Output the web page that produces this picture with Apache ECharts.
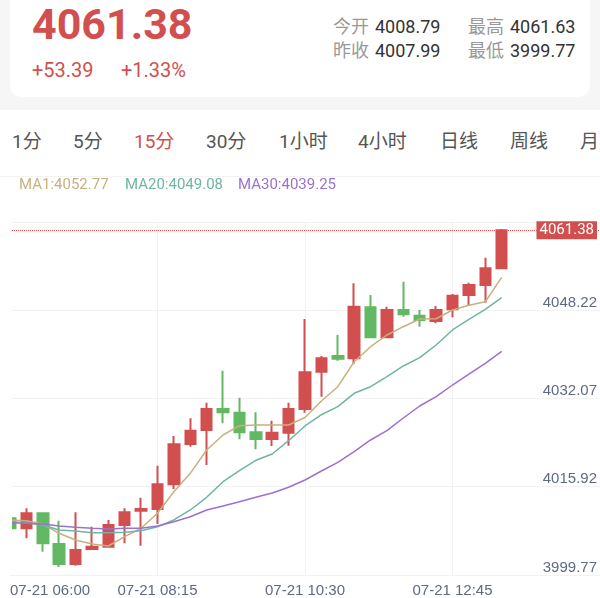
<!DOCTYPE html>
<html>
<head>
<meta charset="utf-8">
<script src="https://cdn.jsdelivr.net/npm/echarts@6/dist/echarts.min.js"></script>
<style>
  html, body { margin: 0; padding: 0; }
  body {
    width: 600px; height: 598px; position: relative; overflow: hidden;
    background: #f6f6f6;
    font-family: Roboto, "Noto Sans CJK SC", sans-serif;
  }
  .card { position: absolute; left: 10px; top: -12px; width: 580px; height: 109px; background: #fff; border-radius: 12px; }
  .panel { position: absolute; left: 0; top: 110px; width: 600px; height: 488px; background: #fff; }
  .t { position: absolute; line-height: 1; white-space: nowrap; }
  .price { left: 32px; top: 3px; font-size: 43px; font-weight: bold; color: #d24f4f; }
  .chg { top: 60px; font-size: 20px; color: #d24f4f; }
  .lab { font-size: 18px; color: #999; }
  .val { font-size: 18px; color: #333; }
  .tab { top: 132px; font-size: 19px; color: #555; }
  .tab.on { color: #d24f4f; }
  .sep { position: absolute; left: 0; top: 176px; width: 600px; height: 1px; background: #f3f3f3; }
  #chart { position: absolute; left: 0; top: 176px; width: 600px; height: 422px; }
</style>
</head>
<body>
<div class="card"></div>
<div class="panel"></div>
<div class="t price" id="price"></div>
<div class="t chg" id="chg" style="left:32px"></div>
<div class="t chg" id="pct" style="left:121px"></div>
<div class="t lab" style="left:333px;top:18px">今开</div>
<div class="t val" id="open" style="left:375px;top:18px"></div>
<div class="t lab" style="left:468px;top:18px">最高</div>
<div class="t val" id="high" style="left:510px;top:18px"></div>
<div class="t lab" style="left:333px;top:42px">昨收</div>
<div class="t val" id="prev" style="left:375px;top:42px"></div>
<div class="t lab" style="left:468px;top:42px">最低</div>
<div class="t val" id="low" style="left:510px;top:42px"></div>
<div id="tabs"></div>
<div class="sep"></div>
<div id="chart"></div>
<script>
// header quote
const lastPrice = '4061.38';
const change = '+53.39';
const changePct = '+1.33%';
const openPrice = '4008.79';
const prevClose = '4007.99';
const highPrice = '4061.63';
const lowPrice = '3999.77';

const tabs = ['1分', '5分', '15分', '30分', '1小时', '4小时', '日线', '周线', '月'];
const tabLeft = [12, 73, 134, 206, 279, 358, 440, 510, 580];
const activeTab = '15分';

// 15 minute bars
const times = [
  '07-21 06:00', '07-21 06:15', '07-21 06:30', '07-21 06:45', '07-21 07:00', '07-21 07:15',
  '07-21 07:30', '07-21 07:45', '07-21 08:00', '07-21 08:15', '07-21 08:30', '07-21 08:45',
  '07-21 09:00', '07-21 09:15', '07-21 09:30', '07-21 09:45', '07-21 10:00', '07-21 10:15',
  '07-21 10:30', '07-21 10:45', '07-21 11:00', '07-21 11:15', '07-21 11:30', '07-21 11:45',
  '07-21 12:00', '07-21 12:15', '07-21 12:30', '07-21 12:45', '07-21 13:00', '07-21 13:15',
  '07-21 13:30', '07-21 13:45', '07-21 14:00', '07-21 14:15', '07-21 14:30', '07-21 14:45',
  '07-21 15:00'
];

// [open, close, low, high]
const kData = [
  [4008.69, 4006.86, 4006.54, 4008.92],
  [4006.86, 4009.60, 4005.03, 4010.52],
  [4009.60, 4004.11, 4002.57, 4009.70],
  [4003.98, 4000.32, 3999.77, 4008.25],
  [4000.32, 4002.89, 4000.01, 4009.78],
  [4003.07, 4003.49, 4002.89, 4007.15],
  [4003.49, 4007.46, 4003.38, 4008.38],
  [4007.46, 4009.78, 4004.11, 4010.52],
  [4010.08, 4010.39, 4003.67, 4012.46],
  [4010.39, 4014.91, 4007.64, 4018.31],
  [4014.91, 4022.23, 4014.05, 4023.75],
  [4022.28, 4024.72, 4021.79, 4026.99],
  [4024.85, 4028.69, 4018.44, 4029.84],
  [4028.69, 4028.08, 4026.07, 4035.70],
  [4028.01, 4024.42, 4023.14, 4030.76],
  [4024.42, 4023.20, 4021.31, 4028.08],
  [4023.20, 4024.35, 4021.92, 4026.55],
  [4024.35, 4028.69, 4021.97, 4029.84],
  [4028.69, 4035.40, 4028.01, 4045.16],
  [4035.51, 4037.97, 4030.94, 4038.39],
  [4038.39, 4037.89, 4037.53, 4042.23],
  [4037.97, 4047.41, 4036.92, 4051.69],
  [4047.30, 4041.81, 4041.81, 4049.55],
  [4041.81, 4046.81, 4041.81, 4047.41],
  [4046.81, 4046.02, 4045.58, 4051.98],
  [4045.76, 4044.98, 4043.75, 4046.81],
  [4044.79, 4046.81, 4044.37, 4047.54],
  [4046.93, 4049.42, 4045.47, 4049.73],
  [4049.55, 4051.38, 4047.72, 4051.80],
  [4051.38, 4054.44, 4048.14, 4056.38],
  [4054.44, 4061.38, 4054.44, 4061.63]
];

const ma1 = [
  4008.38, 4008.25, 4007.64, 4005.94, 4004.72, 4003.98, 4003.62, 4005.32, 4006.86, 4009.60,
  4013.55, 4016.92, 4021.19, 4023.93, 4025.63, 4025.76, 4025.76, 4025.76, 4027.13, 4030.15,
  4032.77, 4037.34, 4040.09, 4042.23, 4043.75, 4045.16, 4045.21, 4046.81, 4047.67, 4048.32,
  4052.77
];
const ma20 = [
  4008.06, 4007.88, 4007.46, 4006.55, 4006.36, 4006.05, 4006.05, 4006.12, 4006.42, 4007.15,
  4008.38, 4010.21, 4012.53, 4015.38, 4017.40, 4019.30, 4020.45, 4022.89, 4025.58, 4027.64,
  4029.11, 4031.56, 4032.77, 4034.60, 4036.56, 4038.08, 4040.40, 4043.15, 4045.10, 4046.93,
  4049.08
];
const ma30 = [
  4007.88, 4007.77, 4007.64, 4007.28, 4007.04, 4006.86, 4006.73, 4006.86, 4006.86, 4007.28,
  4008.06, 4008.98, 4010.21, 4010.94, 4011.72, 4012.53, 4013.32, 4014.36, 4015.70, 4017.34,
  4018.93, 4020.87, 4023.02, 4024.72, 4027.04, 4029.24, 4030.94, 4033.08, 4035.09, 4037.05,
  4039.25
];

const yMin = 3998.31;
const yMax = 4062.91;
const yStep = 16.15;
const yTickLabels = ['3999.77', '4015.92', '4032.07', '4048.22', ''];

const UP = '#d24f4f';
const DOWN = '#63b863';
const AXIS_TEXT = '#5e6a85';
const GRID = '#f2f2f2';

document.getElementById('price').textContent = lastPrice;
document.getElementById('chg').textContent = change;
document.getElementById('pct').textContent = changePct;
document.getElementById('open').textContent = openPrice;
document.getElementById('prev').textContent = prevClose;
document.getElementById('high').textContent = highPrice;
document.getElementById('low').textContent = lowPrice;

const tabBox = document.getElementById('tabs');
tabs.forEach((name, i) => {
  const d = document.createElement('div');
  d.className = 't tab' + (name === activeTab ? ' on' : '');
  d.style.left = tabLeft[i] + 'px';
  d.textContent = name;
  tabBox.appendChild(d);
});

const last = arr => arr[arr.length - 1];
const legendItems = [
  { text: 'MA1:' + last(ma1).toFixed(2), color: '#c8b07e', left: 19 },
  { text: 'MA20:' + last(ma20).toFixed(2), color: '#6fb5a5', left: 125 },
  { text: 'MA30:' + last(ma30).toFixed(2), color: '#9a72cf', left: 238 }
];

const maLine = (name, data, color) => ({
  name: name,
  type: 'line',
  data: data,
  showSymbol: false,
  silent: true,
  lineStyle: { color: color, width: 1.5 },
  itemStyle: { color: color }
});

var myChart = echarts.init(document.getElementById('chart'));
myChart.setOption({
  animation: false,
  grid: { left: 10, right: 0, top: 46, bottom: 23 },
  graphic: legendItems.map(it => ({
    type: 'text',
    left: it.left,
    top: 2,
    style: { text: it.text, fill: it.color, font: '15px Roboto' }
  })).concat([
    // the first bar is cut at the left edge of the plot
    { type: 'rect', left: 0, top: 46, z: 100, shape: { width: 12, height: 353 }, style: { fill: '#fff' } }
  ]),
  xAxis: {
    type: 'category',
    data: times,
    boundaryGap: false,
    axisLine: { show: false },
    axisTick: { show: false },
    axisLabel: {
      interval: 8,
      color: AXIS_TEXT,
      fontSize: 15,
      margin: 8,
      alignMinLabel: 'left',
      showMaxLabel: false
    },
    splitLine: {
      show: true,
      interval: 8,
      showMinLine: false,
      showMaxLine: false,
      lineStyle: { color: GRID }
    }
  },
  yAxis: {
    type: 'value',
    position: 'right',
    min: yMin,
    max: yMax,
    interval: yStep,
    axisLine: { show: false },
    axisTick: { show: false },
    axisLabel: {
      inside: true,
      margin: 3,
      verticalAlign: 'bottom',
      color: AXIS_TEXT,
      fontSize: 15,
      formatter: (v, i) => yTickLabels[i] || ''
    },
    splitLine: { lineStyle: { color: GRID } }
  },
  series: [
    {
      type: 'candlestick',
      data: kData,
      barWidth: 11,
      itemStyle: {
        color: UP,
        color0: DOWN,
        borderColor: UP,
        borderColor0: DOWN,
        borderWidth: 2
      },
      markLine: {
        silent: true,
        symbol: ['none', 'none'],
        data: [{ yAxis: last(kData)[1] }],
        lineStyle: { color: '#e04b4b', type: 'dotted', width: 1 },
        label: {
          position: 'insideEnd',
          distance: 3,
          formatter: p => Number(p.value).toFixed(2),
          color: '#fff',
          backgroundColor: UP,
          padding: [2, 3, 1, 3],
          fontSize: 15,
          fontFamily: 'Roboto'
        }
      }
    },
    maLine('MA1', ma1, '#c8b07e'),
    maLine('MA20', ma20, '#6fb5a5'),
    maLine('MA30', ma30, '#9a72cf')
  ]
});
</script>
</body>
</html>
